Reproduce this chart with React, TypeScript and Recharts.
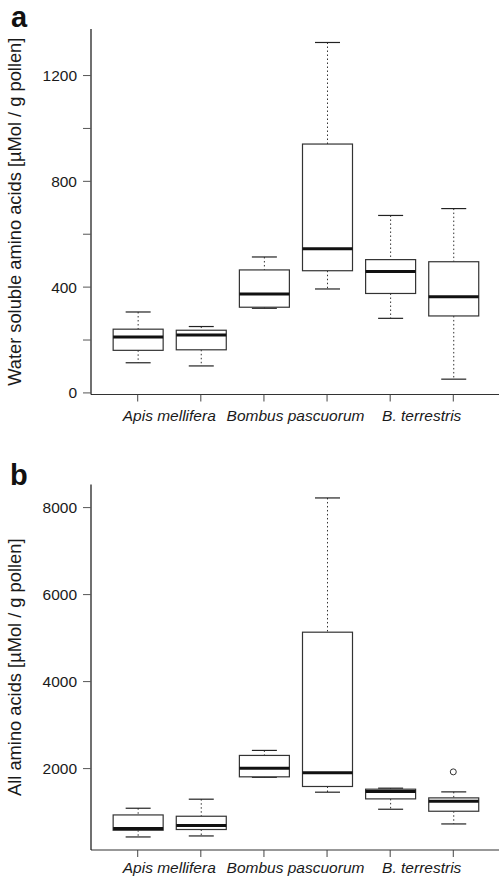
import React from "react";
import { ComposedChart, Bar, Scatter, XAxis, YAxis } from "recharts";

// box positions and group labels
const positions = [1, 2, 3, 4, 5, 6];
const groups = ["Apis mellifera", "Bombus pascuorum", "B. terrestris"];

// panel a: water soluble amino acids
const waterLow = [114, 102, 320, 393, 282, 52];
const waterQ1 = [161, 163, 324, 462, 376, 291];
const waterMedian = [211, 219, 374, 545, 459, 364];
const waterQ3 = [241, 237, 465, 941, 504, 496];
const waterHigh = [306, 251, 514, 1325, 671, 697];
const waterTicks = [0, 200, 400, 600, 800, 1000, 1200];

// panel b: all amino acids
const allLow = [429, 452, 1800, 1458, 1066, 728];
const allQ1 = [583, 600, 1811, 1589, 1304, 1020];
const allMedian = [622, 691, 2011, 1902, 1474, 1251];
const allQ3 = [935, 905, 2303, 5136, 1527, 1327];
const allHigh = [1089, 1297, 2418, 8222, 1550, 1465];
const allOutlierPos = [6];
const allOutlierValue = [1925];
const allTicks = [2000, 4000, 6000, 8000];

const FONT = "'Liberation Sans', Arial, Helvetica, sans-serif";
const INK = "#1a1a1a";

function buildRows(low: number[], q1: number[], med: number[], q3: number[], high: number[]) {
  return positions.map((pos, i) => ({
    pos,
    low: low[i],
    q1: q1[i],
    median: med[i],
    q3: q3[i],
    high: high[i],
    range: [low[i], high[i]],
  }));
}

const waterRows = buildRows(waterLow, waterQ1, waterMedian, waterQ3, waterHigh);
const allRows = buildRows(allLow, allQ1, allMedian, allQ3, allHigh);
const allOutliers = allOutlierPos.map((pos, i) => ({ pos, value: allOutlierValue[i] }));

function BoxShape(props: any) {
  const { x, y, width, height, payload } = props;
  if (x == null || !payload) return null;
  const top = Math.min(y, y + height);
  const bot = Math.max(y, y + height);
  const span = payload.high - payload.low;
  const py = (v: number) => bot - ((v - payload.low) / span) * (bot - top);
  const cx = x + width / 2;
  const half = 25;
  const cap = 12.5;
  return (
    <g>
      <line x1={cx} x2={cx} y1={py(payload.high)} y2={py(payload.q3)} stroke="#333" strokeDasharray="1.5 2.5" />
      <line x1={cx} x2={cx} y1={py(payload.q1)} y2={py(payload.low)} stroke="#333" strokeDasharray="1.5 2.5" />
      <line x1={cx - cap} x2={cx + cap} y1={py(payload.high)} y2={py(payload.high)} stroke="#222" strokeWidth={1.2} />
      <line x1={cx - cap} x2={cx + cap} y1={py(payload.low)} y2={py(payload.low)} stroke="#222" strokeWidth={1.2} />
      <rect
        x={cx - half}
        y={py(payload.q3)}
        width={half * 2}
        height={py(payload.q1) - py(payload.q3)}
        fill="#fff"
        stroke="#333"
        strokeWidth={1.2}
      />
      <line x1={cx - half} x2={cx + half} y1={py(payload.median)} y2={py(payload.median)} stroke="#111" strokeWidth={3} />
    </g>
  );
}

function makeXTick(labelDy: number) {
  return (props: any) => {
    const { x, y, payload } = props;
    const v = payload.value;
    if (Number.isInteger(v)) {
      return <line x1={x} x2={x} y1={y} y2={y + 7} stroke="#444" />;
    }
    const idx = Math.round((v - 1.5) / 2);
    return (
      <text x={x} y={y + labelDy} textAnchor="middle" fontStyle="italic" fontSize={15.5} fontFamily={FONT} fill={INK}>
        {groups[idx]}
      </text>
    );
  };
}

function makeYTick(fmt: (v: number) => string) {
  return (props: any) => {
    const { x, y, payload } = props;
    return (
      <text x={x} y={y} dy="0.355em" textAnchor="end" fontSize={15.5} fontFamily={FONT} fill={INK}>
        {fmt(payload.value)}
      </text>
    );
  };
}

function yTitle(text: string) {
  return (p: any) => {
    const vb = p.viewBox || {};
    const cy = vb.y + vb.height / 2;
    return (
      <text
        x={14}
        y={cy}
        transform={`rotate(-90 14 ${cy})`}
        textAnchor="middle"
        dominantBaseline="central"
        fontSize={18.3}
        fontFamily={FONT}
        fill={INK}
      >
        {text}
      </text>
    );
  };
}

interface PanelProps {
  rows: any[];
  outliers?: { pos: number; value: number }[];
  domain: [number, number];
  ticks: number[];
  tickFmt: (v: number) => string;
  title: string;
  height: number;
  marginTop: number;
  xHeight: number;
  labelDy: number;
}

function Panel({ rows, outliers, domain, ticks, tickFmt, title, height, marginTop, xHeight, labelDy }: PanelProps) {
  return (
    <ComposedChart width={501} height={height} data={rows} margin={{ top: marginTop, right: 1, bottom: 0, left: 0 }}>
      <XAxis
        xAxisId="top"
        orientation="top"
        type="number"
        domain={[0.26, 6.74]}
        height={0}
        tick={false}
        tickLine={false}
        axisLine={{ stroke: "#888", strokeWidth: 1.2 }}
      />
      <XAxis
        dataKey="pos"
        type="number"
        domain={[0.26, 6.74]}
        ticks={[1, 1.5, 2, 3, 3.5, 4, 5, 5.5, 6]}
        interval={0}
        height={xHeight}
        tickSize={0}
        tickMargin={0}
        tickLine={false}
        axisLine={{ stroke: "#333", strokeWidth: 1.2 }}
        tick={makeXTick(labelDy)}
      />
      <YAxis
        type="number"
        domain={domain}
        ticks={ticks}
        interval={0}
        width={91}
        tickSize={8}
        tickMargin={6}
        tickLine={{ stroke: "#555" }}
        axisLine={{ stroke: "#111", strokeWidth: 1.2 }}
        tick={makeYTick(tickFmt)}
        label={{ content: yTitle(title) }}
      />
      <Bar dataKey="range" barSize={50} shape={BoxShape} isAnimationActive={false} />
      {outliers && (
        <Scatter
          data={outliers}
          dataKey="value"
          isAnimationActive={false}
          shape={(p: any) => <circle cx={p.cx} cy={p.cy} r={3} fill="none" stroke="#333" strokeWidth={1} />}
        />
      )}
    </ComposedChart>
  );
}

export default function App() {
  return (
    <div style={{ position: "relative", width: 499, height: 879, overflow: "hidden", background: "#fff" }}>
      <style>{"body{margin:0}"}</style>
      <div style={{ position: "absolute", left: 0, top: 0 }}>
        <Panel
          rows={waterRows}
          domain={[-6, 1376]}
          ticks={waterTicks}
          tickFmt={(v) => (v % 400 === 0 ? String(v) : "")}
          title="Water soluble amino acids [µMol / g pollen]"
          height={440}
          marginTop={29}
          xHeight={45.5}
          labelDy={26}
        />
      </div>
      <div style={{ position: "absolute", left: 0, top: 440 }}>
        <Panel
          rows={allRows}
          outliers={allOutliers}
          domain={[129, 8531]}
          ticks={allTicks}
          tickFmt={(v) => String(v)}
          title="All amino acids [µMol / g pollen]"
          height={439}
          marginTop={44.5}
          xHeight={29}
          labelDy={23}
        />
      </div>
      <svg width={499} height={879} style={{ position: "absolute", left: 0, top: 0, pointerEvents: "none" }}>
        <text x={11} y={26.5} fontSize={29} fontWeight="bold" fontFamily={FONT} fill="#111">a</text>
        <text x={10} y={484.5} fontSize={29} fontWeight="bold" fontFamily={FONT} fill="#111">b</text>
      </svg>
    </div>
  );
}
